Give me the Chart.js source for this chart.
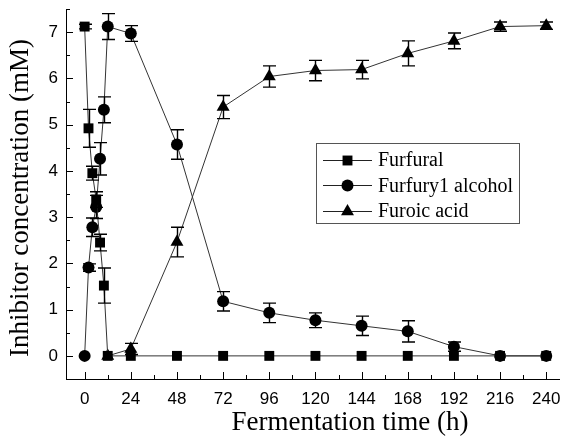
<!DOCTYPE html>
<html>
<head>
<meta charset="utf-8">
<script src="https://cdn.jsdelivr.net/npm/chart.js@4.4.1/dist/chart.umd.min.js"></script>
<style>
  html, body { margin: 0; padding: 0; background: #fff; }
  #wrap { width: 567px; height: 438px; position: relative; }
</style>
</head>
<body>
<div id="wrap"><canvas id="chart"></canvas></div>
<script>
// sampling times (h) and concentrations (mM)
const furfuralTime = [0, 2, 4, 6, 8, 10, 12, 24, 48, 72, 96, 120, 144, 168, 192, 216, 240];
const furfuralConc = [7.12, 4.92, 3.95, 3.38, 2.45, 1.52, 0, 0, 0, 0, 0, 0, 0, 0, 0, 0, 0];
const furfuralErr  = [0.05, 0.41, 0.15, 0.17, 0.18, 0.38, 0, 0, 0, 0, 0, 0, 0, 0, 0, 0, 0];

const alcoholTime = [0, 2, 4, 6, 8, 10, 12, 24, 48, 72, 96, 120, 144, 168, 192, 216, 240];
const alcoholConc = [0, 1.91, 2.78, 3.22, 4.26, 5.32, 7.12, 6.97, 4.57, 1.18, 0.93, 0.77, 0.65, 0.53, 0.2, 0, 0];
const alcoholErr  = [0, 0.08, 0.2, 0.25, 0.35, 0.28, 0.28, 0.17, 0.32, 0.21, 0.21, 0.16, 0.21, 0.23, 0.1, 0, 0];

const acidTime = [12, 24, 48, 72, 96, 120, 144, 168, 192, 216, 240];
const acidConc = [0, 0.15, 2.46, 5.38, 6.04, 6.17, 6.19, 6.54, 6.81, 7.12, 7.14];
const acidErr  = [0, 0.12, 0.32, 0.25, 0.23, 0.22, 0.2, 0.27, 0.17, 0.1, 0.08];

const seriesNames = ['Furfural', 'Furfury1 alcohol', 'Furoic acid'];
const xTickValues = [0, 24, 48, 72, 96, 120, 144, 168, 192, 216, 240];
const yTickValues = [0, 1, 2, 3, 4, 5, 6, 7];

function toPoints(xs, ys) {
    return xs.map((x, i) => ({x: x, y: ys[i]}));
}

// vertical error bars with caps
const errorBars = {
    id: 'errorBars',
    afterDatasetsDraw(chart) {
        const ctx = chart.ctx;
        const xs = chart.scales.x, ys = chart.scales.y;
        ctx.save();
        ctx.strokeStyle = '#000';
        ctx.lineWidth = 1.4;
        chart.data.datasets.forEach(ds => {
            ds.data.forEach((p, i) => {
                const e = ds.errors[i];
                if (!e) return;
                const px = Math.round(xs.getPixelForValue(p.x)) + 0.5;
                const top = ys.getPixelForValue(p.y + e);
                const bot = ys.getPixelForValue(p.y - e);
                ctx.beginPath();
                ctx.moveTo(px, top); ctx.lineTo(px, bot);
                ctx.moveTo(px - 6.5, top); ctx.lineTo(px + 6.5, top);
                ctx.moveTo(px - 6.5, bot); ctx.lineTo(px + 6.5, bot);
                ctx.stroke();
            });
        });
        ctx.restore();
    }
};

// inward major/minor ticks, legend box and axis titles
const decorations = {
    id: 'decorations',
    afterDraw(chart) {
        const ctx = chart.ctx;
        const xs = chart.scales.x, ys = chart.scales.y;
        const area = chart.chartArea;
        ctx.save();
        ctx.strokeStyle = '#000';
        ctx.lineWidth = 1;
        ctx.beginPath();
        for (let v = 0; v <= 240; v += 12) {
            const px = Math.round(xs.getPixelForValue(v)) + 0.5;
            const len = v % 24 === 0 ? 7 : 4;
            ctx.moveTo(px, area.bottom);
            ctx.lineTo(px, area.bottom - len);
        }
        for (let v = 0; v <= 7.5; v += 0.5) {
            const py = Math.round(ys.getPixelForValue(v)) + 0.5;
            const len = Number.isInteger(v) ? 7 : 4;
            ctx.moveTo(area.left, py);
            ctx.lineTo(area.left + len, py);
        }
        ctx.stroke();

        // legend
        ctx.strokeStyle = '#555';
        ctx.strokeRect(316.5, 143.5, 203, 80);
        ctx.font = '20px "Liberation Serif", "Times New Roman", serif';
        ctx.textBaseline = 'middle';
        ctx.textAlign = 'left';
        chart.data.datasets.forEach((ds, i) => {
            const y = 160 + i * 25.3;
            ctx.strokeStyle = '#222';
            ctx.beginPath();
            ctx.moveTo(323, Math.round(y) + 0.5);
            ctx.lineTo(372, Math.round(y) + 0.5);
            ctx.stroke();
            ctx.fillStyle = '#000';
            ctx.strokeStyle = '#000';
            Chart.helpers.drawPoint(ctx, {
                pointStyle: ds.pointStyle, radius: ds.pointRadius, rotation: 0, borderWidth: 0
            }, 347.5, Math.round(y) + 0.5);
            ctx.fillStyle = '#000';
            ctx.fillText(ds.label, 378, y + 1);
        });

        // axis titles
        ctx.fillStyle = '#000';
        ctx.textAlign = 'center';
        ctx.textBaseline = 'middle';
        ctx.font = '27px "Liberation Serif", "Times New Roman", serif';
        ctx.fillText('Fermentation time (h)', 350, 423);
        ctx.translate(21, 198);
        ctx.rotate(-Math.PI / 2);
        ctx.fillText('Inhibitor concentration (mM)', 0, 0);
        ctx.restore();
    }
};

function makeDataset(label, xs, ys, errs, style, radius) {
    return {
        label: label,
        data: toPoints(xs, ys),
        errors: errs,
        showLine: true,
        borderColor: '#333',
        borderWidth: 1,
        pointStyle: style,
        pointRadius: radius,
        pointHoverRadius: radius,
        pointBackgroundColor: '#000',
        pointBorderColor: '#000',
        pointBorderWidth: 0,
        clip: false
    };
}

const ctx = document.getElementById('chart').getContext('2d');
new Chart(ctx, {
    type: 'scatter',
    data: {
        datasets: [
            makeDataset(seriesNames[0], furfuralTime, furfuralConc, furfuralErr, 'rect', 7),
            makeDataset(seriesNames[1], alcoholTime, alcoholConc, alcoholErr, 'circle', 6),
            makeDataset(seriesNames[2], acidTime, acidConc, acidErr, 'triangle', 7.5)
        ]
    },
    options: {
        responsive: true,
        maintainAspectRatio: false,
        animation: false,
        layout: {padding: {top: 9, right: 0, left: 0, bottom: 0}},
        plugins: {
            legend: {display: false},
            tooltip: {enabled: false}
        },
        scales: {
            x: {
                type: 'linear',
                min: -9.7,
                max: 246.9,
                afterBuildTicks: s => { s.ticks = xTickValues.map(v => ({value: v})); },
                afterFit: s => { s.height = 59; s.paddingLeft = 0; s.paddingRight = 0; },
                grid: {display: false, drawTicks: false},
                border: {display: true, color: '#000', width: 1},
                ticks: {
                    autoSkip: false,
                    maxRotation: 0,
                    padding: 10,
                    color: '#000',
                    font: {family: '"Liberation Sans", Arial, sans-serif', size: 17}
                }
            },
            y: {
                type: 'linear',
                min: -0.5,
                max: 7.5,
                afterBuildTicks: s => { s.ticks = yTickValues.map(v => ({value: v})); },
                afterFit: s => { s.width = 66; s.paddingTop = 0; s.paddingBottom = 0; },
                grid: {display: false, drawTicks: false},
                border: {display: true, color: '#000', width: 1},
                ticks: {
                    padding: 8,
                    color: '#000',
                    font: {family: '"Liberation Sans", Arial, sans-serif', size: 17}
                }
            }
        }
    },
    plugins: [errorBars, decorations]
});
</script>
</body>
</html>
